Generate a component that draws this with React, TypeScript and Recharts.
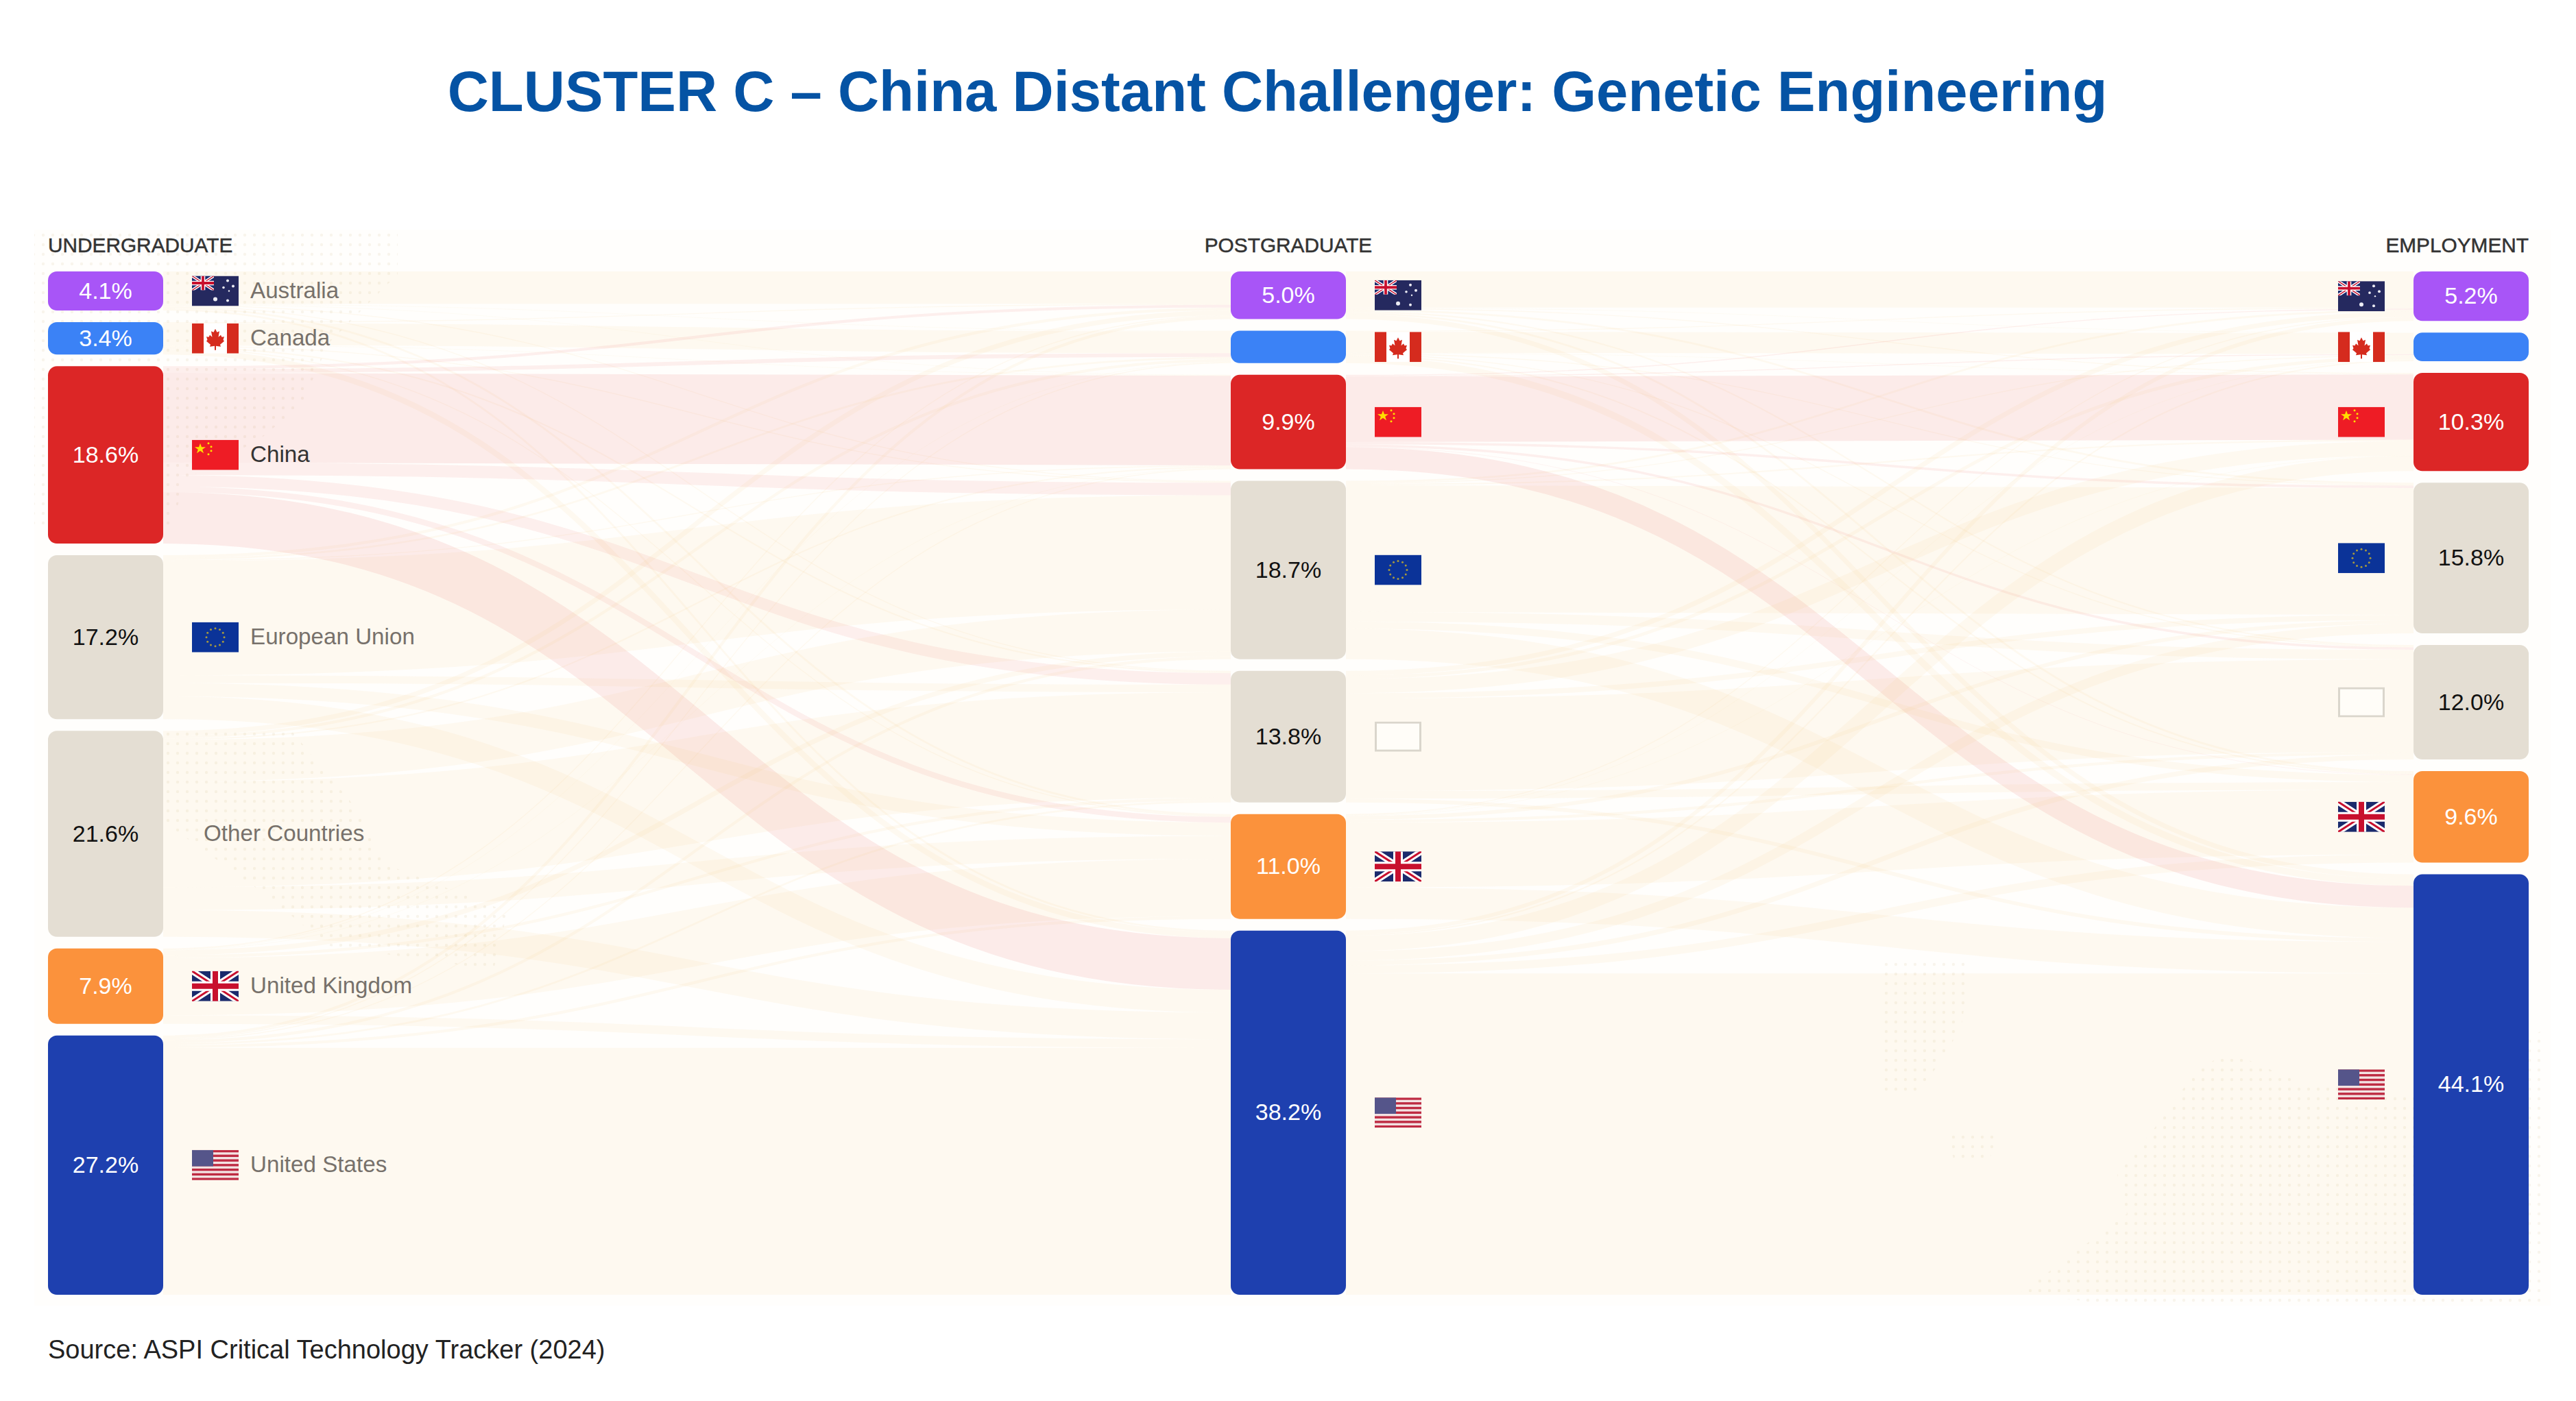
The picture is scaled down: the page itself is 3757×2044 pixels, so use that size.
import React from 'react';
import { Sankey } from 'recharts';

const countries = ['Australia', 'Canada', 'China', 'European Union', 'Other Countries', 'United Kingdom', 'United States'];
const flagCodes = ['au', 'ca', 'cn', 'eu', 'xx', 'uk', 'us'];
const nodeColors = ['#A855F7', '#3B82F6', '#DC2626', '#E4DED3', '#E4DED3', '#FB923C', '#1E40AF'];
const labelColors = ['#FFFFFF', '#FFFFFF', '#FFFFFF', '#111111', '#111111', '#FFFFFF', '#FFFFFF'];

const undergradLabels = ['4.1%', '3.4%', '18.6%', '17.2%', '21.6%', '7.9%', '27.2%'];
const postgradLabels = ['5.0%', '', '9.9%', '18.7%', '13.8%', '11.0%', '38.2%'];
const employmentLabels = ['5.2%', '', '10.3%', '15.8%', '12.0%', '9.6%', '44.1%'];

// rows: undergraduate country, columns: postgraduate country
const undergradToPostgrad = [
  [3.4, 0.05, 0.05, 0.1, 0.1, 0.2, 0.2],
  [0.1, 2.3, 0.05, 0.1, 0.15, 0.1, 0.6],
  [0.3, 0.4, 9.4, 1.3, 1.2, 0.6, 5.4],
  [0.3, 0.2, 0.1, 12.0, 0.8, 1.4, 2.4],
  [0.5, 0.3, 0.15, 4.4, 11.05, 2.4, 2.8],
  [0.1, 0.05, 0.05, 0.5, 0.3, 6.0, 0.9],
  [0.3, 0.1, 0.1, 0.3, 0.2, 0.3, 25.9],
];

// rows: postgraduate country, columns: employment country
const postgradToEmployment = [
  [3.8, 0.05, 0.1, 0.2, 0.15, 0.2, 0.5],
  [0.1, 2.2, 0.05, 0.1, 0.1, 0.15, 0.7],
  [0.1, 0.1, 6.85, 0.25, 0.25, 0.05, 2.3],
  [0.2, 0.1, 0.15, 13.3, 1.0, 0.75, 3.2],
  [0.5, 0.35, 1.5, 0.55, 9.7, 0.8, 0.4],
  [0.1, 0.05, 0.05, 0.4, 0.3, 6.8, 3.3],
  [0.4, 0.15, 1.6, 1.0, 0.5, 0.85, 33.7],
];

const COUNT = countries.length;
const sankeyNodes = [0, 1, 2].flatMap((stage) =>
  countries.map((name) => ({ name: `${name}-${stage}` })),
);
const sankeyLinks = [
  ...undergradToPostgrad.flatMap((row, s) =>
    row.map((value, t) => ({ source: s, target: COUNT + t, value })),
  ),
  ...postgradToEmployment.flatMap((row, s) =>
    row.map((value, t) => ({ source: COUNT + s, target: 2 * COUNT + t, value })),
  ),
];

const FONT = '"Liberation Sans", Arial, sans-serif';
const FLAG_W = 68;
const FLAG_H = 44;

const Flag = ({ code, x, y }: { code: string; x: number; y: number }) => {
  const common = { x, y, width: FLAG_W, height: FLAG_H, viewBox: `0 0 ${FLAG_W} ${FLAG_H}`, preserveAspectRatio: 'none' };
  if (code === 'xx') {
    return (
      <svg {...common}>
        <rect x={1.5} y={1.5} width={65} height={41} fill="#FFFDF8" stroke="#DAD6CC" strokeWidth={3} />
      </svg>
    );
  }
  if (code === 'cn') {
    return (
      <svg {...common}>
        <rect width={68} height={44} fill="#EE1C25" />
        <polygon points="12,5 14,10.5 20,10.5 15.2,14 17,19.5 12,16 7,19.5 8.8,14 4,10.5 10,10.5" fill="#FFDE00" />
        {[[24, 5], [28, 10], [28, 16], [24, 21]].map(([a, b]) => (
          <circle key={`${a}${b}`} cx={a} cy={b} r={1.5} fill="#FFDE00" />
        ))}
      </svg>
    );
  }
  if (code === 'ca') {
    return (
      <svg {...common}>
        <rect width={68} height={44} fill="#FFFFFF" />
        <rect width={17} height={44} fill="#D52B1E" />
        <rect x={51} width={17} height={44} fill="#D52B1E" />
        <polygon
          points="34,8 36.5,13 40,11.5 38.5,20 42,17 43.5,20 47,19.5 45.5,24 47,26 41,31 42,34 35,33 35,39 33,39 33,33 26,34 27,31 21,26 22.5,24 21,19.5 24.5,20 26,17 29.5,20 28,11.5 31.5,13"
          fill="#D52B1E"
        />
      </svg>
    );
  }
  if (code === 'eu') {
    return (
      <svg {...common}>
        <rect width={68} height={44} fill="#0B3398" />
        {Array.from({ length: 12 }).map((_, i) => (
          <circle
            key={i}
            cx={34 + 13 * Math.cos((i * Math.PI) / 6)}
            cy={22 + 13 * Math.sin((i * Math.PI) / 6)}
            r={1.5}
            fill="#A89A3E"
          />
        ))}
      </svg>
    );
  }
  if (code === 'us') {
    return (
      <svg {...common}>
        <rect width={68} height={44} fill="#F3E3E3" />
        {Array.from({ length: 7 }).map((_, i) => (
          <rect key={i} y={(i * 2 * 44) / 13} width={68} height={44 / 13} fill="#BE2B42" />
        ))}
        <rect width={31} height={23.7} fill="#55558A" />
      </svg>
    );
  }
  const union = (
    <>
      <rect width={68} height={44} fill="#1A2A6C" />
      <path d="M0,0 L68,44 M68,0 L0,44" stroke="#FFFFFF" strokeWidth={9} />
      <path d="M0,0 L68,44 M68,0 L0,44" stroke="#C8102E" strokeWidth={3} />
      <path d="M34,0 V44 M0,22 H68" stroke="#FFFFFF" strokeWidth={14} />
      <path d="M34,0 V44 M0,22 H68" stroke="#C8102E" strokeWidth={8} />
    </>
  );
  if (code === 'uk') return <svg {...common}>{union}</svg>;
  return (
    <svg {...common}>
      <rect width={68} height={44} fill="#25295F" />
      <svg x={0} y={0} width={32} height={21} viewBox="0 0 68 44" preserveAspectRatio="none">
        {union}
      </svg>
      {[[34, 34, 3], [52, 7, 2], [46, 17, 1.8], [60, 15, 2], [54, 22, 1.2], [52, 36, 2]].map(([a, b, r]) => (
        <circle key={`${a}${b}`} cx={a} cy={b} r={r} fill="#ECECF4" />
      ))}
    </svg>
  );
};

const FlowNode = (props: any) => {
  const { x, y, width, height, index } = props;
  const stage = Math.floor(index / COUNT);
  const c = index % COUNT;
  const label = [undergradLabels, postgradLabels, employmentLabels][stage][c];
  const cy = y + height / 2;
  const flagX = stage === 2 ? x - 42 - FLAG_W : x + width + 42;
  const isOther = c === 4;
  return (
    <g>
      <rect x={x} y={y} width={width} height={height} rx={13} ry={13} fill={nodeColors[c]} />
      {label ? (
        <text
          x={x + width / 2}
          y={cy - 1}
          textAnchor="middle"
          dominantBaseline="central"
          fontFamily={FONT}
          fontSize={34}
          fill={labelColors[c]}
        >
          {label}
        </text>
      ) : null}
      {stage === 0 && isOther ? null : <Flag code={flagCodes[c]} x={flagX} y={cy - FLAG_H / 2} />}
      {stage === 0 ? (
        <text
          x={isOther ? 297 : 365}
          y={cy - 1.5}
          dominantBaseline="central"
          fontFamily={FONT}
          fontSize={33.2}
          fill={c === 2 ? '#333333' : '#77716B'}
        >
          {countries[c]}
        </text>
      ) : null}
    </g>
  );
};

const FlowLink = (props: any) => {
  const { sourceX, targetX, sourceY, targetY, sourceControlX, targetControlX, linkWidth, index } = props;
  const fromChina = sankeyLinks[index].source % COUNT === 2;
  const thin = sankeyLinks[index].value < 2;
  return (
    <path
      d={`M${sourceX},${sourceY} C${sourceControlX},${sourceY} ${targetControlX},${targetY} ${targetX},${targetY}`}
      fill="none"
      stroke={fromChina ? '#E0302E' : '#F5C77E'}
      strokeOpacity={fromChina && thin ? 0.07 : 0.09}
      strokeWidth={linkWidth}
    />
  );
};

const mapRegions = [
  '50,340 580,340 580,400 480,500 440,590 380,640 270,700 250,770 50,770',
  '240,1066 420,1060 520,1180 560,1260 740,1330 720,1415 480,1380 380,1300 240,1200',
  '2742,1396 2876,1396 2860,1500 2800,1595 2742,1595',
  '2840,1649 2918,1649 2900,1695 2850,1695',
  '3250,1534 3356,1580 3518,1595 3709,1503 3709,1902 3067,1902 2947,1886 3102,1771 3088,1714 3158,1626 3201,1564',
];

export default function App() {
  return (
    <div style={{ position: 'absolute', left: 0, top: 0, width: 3757, height: 2044, overflow: 'hidden', background: '#FFFFFF' }}>
      <svg width={3757} height={2044} style={{ position: 'absolute', left: 0, top: 0 }}>
        <defs>
          <pattern id="mapDots" width={14} height={14} patternUnits="userSpaceOnUse">
            <circle cx={7} cy={7} r={2.2} fill="#F8F4EC" />
          </pattern>
        </defs>
        <rect x={50} y={335} width={3670} height={1570} fill="#FFFEFC" />
        {mapRegions.map((points) => (
          <polygon key={points} points={points} fill="url(#mapDots)" />
        ))}
      </svg>
      <div style={{ position: 'absolute', left: 0, top: 0 }}>
        <Sankey
          width={3757}
          height={2044}
          data={{ nodes: sankeyNodes, links: sankeyLinks }}
          margin={{ left: 70, right: 69, top: 396, bottom: 155 }}
          nodeWidth={168}
          nodePadding={17}
          iterations={0}
          sort={false}
          linkCurvature={0.5}
          node={FlowNode}
          link={FlowLink}
        />
      </div>
      <svg width={3757} height={2044} style={{ position: 'absolute', left: 0, top: 0, pointerEvents: 'none' }}>
        <text x={1863} y={162} textAnchor="middle" fontFamily={FONT} fontWeight={700} fontSize={83.3} fill="#0553A4">
          CLUSTER C – China Distant Challenger: Genetic Engineering
        </text>
        <text x={70} y={368} fontFamily={FONT} fontSize={29.8} fill="#333333" stroke="#333333" strokeWidth={0.5}>
          UNDERGRADUATE
        </text>
        <text x={1879} y={368} textAnchor="middle" fontFamily={FONT} fontSize={29.8} fill="#333333" stroke="#333333" strokeWidth={0.5}>
          POSTGRADUATE
        </text>
        <text x={3688} y={368} textAnchor="end" fontFamily={FONT} fontSize={29.8} fill="#333333" stroke="#333333" strokeWidth={0.5}>
          EMPLOYMENT
        </text>
        <text x={70} y={1982} fontFamily={FONT} fontSize={38} fill="#222222">
          Source: ASPI Critical Technology Tracker (2024)
        </text>
      </svg>
    </div>
  );
}
